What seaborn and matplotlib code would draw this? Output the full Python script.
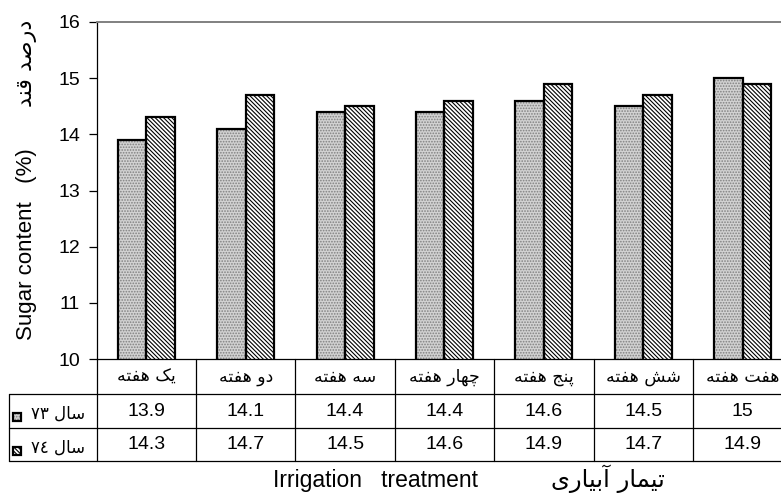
import re
import matplotlib
matplotlib.use("Agg")
import matplotlib.pyplot as plt
from matplotlib.patches import Rectangle
from matplotlib.lines import Line2D
from matplotlib.transforms import blended_transform_factory
import pandas as pd
import seaborn as sns

# ---- data -------------------------------------------------------------
weeks = ["یک هفته", "دو هفته", "سه هفته", "چهار هفته", "پنج هفته", "شش هفته", "هفت هفته"]
years = ["سال ٧٣", "سال ٧٤"]
sugar_73 = [13.9, 14.1, 14.4, 14.4, 14.6, 14.5, 15.0]
sugar_74 = [14.3, 14.7, 14.5, 14.6, 14.9, 14.7, 14.9]
y_ticks = [10, 11, 12, 13, 14, 15, 16]
y_title_en = "Sugar content   (%)"
y_title_fa = "درصد قند"
x_title_en = "Irrigation   treatment"
x_title_fa = "تیمار آبیاری"

# ---- simple Persian shaping (contextual forms + right-to-left order) ---
# letter: (isolated, final, initial, medial); None = does not join forward
FORMS = {
    "ا": ("\uFE8D", "\uFE8E", None, None),
    "آ": ("\uFE81", "\uFE82", None, None),
    "د": ("\uFEA9", "\uFEAA", None, None),
    "ر": ("\uFEAD", "\uFEAE", None, None),
    "و": ("\uFEED", "\uFEEE", None, None),
    "ب": ("\uFE8F", "\uFE90", "\uFE91", "\uFE92"),
    "ت": ("\uFE95", "\uFE96", "\uFE97", "\uFE98"),
    "ج": ("\uFE9D", "\uFE9E", "\uFE9F", "\uFEA0"),
    "س": ("\uFEB1", "\uFEB2", "\uFEB3", "\uFEB4"),
    "ش": ("\uFEB5", "\uFEB6", "\uFEB7", "\uFEB8"),
    "ص": ("\uFEB9", "\uFEBA", "\uFEBB", "\uFEBC"),
    "ف": ("\uFED1", "\uFED2", "\uFED3", "\uFED4"),
    "ق": ("\uFED5", "\uFED6", "\uFED7", "\uFED8"),
    "ل": ("\uFEDD", "\uFEDE", "\uFEDF", "\uFEE0"),
    "م": ("\uFEE1", "\uFEE2", "\uFEE3", "\uFEE4"),
    "ن": ("\uFEE5", "\uFEE6", "\uFEE7", "\uFEE8"),
    "ه": ("\uFEE9", "\uFEEA", "\uFEEB", "\uFEEC"),
    "پ": ("\uFB56", "\uFB57", "\uFB58", "\uFB59"),
    "چ": ("\uFB7A", "\uFB7B", "\uFB7C", "\uFB7D"),
    "ک": ("\uFB8E", "\uFB8F", "\uFB90", "\uFB91"),
    "ی": ("\uFBFC", "\uFBFD", "\uFBFE", "\uFBFF"),
}
DIGITS = "0123456789.٠١٢٣٤٥٦٧٨٩۰۱۲۳۴۵۶۷۸۹"


def fa(text):
    shaped = []
    for i, ch in enumerate(text):
        if ch not in FORMS:
            shaped.append(ch)
            continue
        prev = text[i - 1] if i > 0 else None
        nxt = text[i + 1] if i + 1 < len(text) else None
        join_prev = prev in FORMS and FORMS[prev][2] is not None
        join_next = nxt in FORMS and FORMS[ch][2] is not None
        iso, fin, ini, med = FORMS[ch]
        if join_prev and join_next:
            shaped.append(med)
        elif join_prev:
            shaped.append(fin)
        elif join_next:
            shaped.append(ini)
        else:
            shaped.append(iso)
    shaped = "".join(shaped)
    runs = re.findall(f"[{re.escape(DIGITS)}]+|[^{re.escape(DIGITS)}]+", shaped)
    return "".join(r if r[0] in DIGITS else r[::-1] for r in reversed(runs))


# ---- styling ------------------------------------------------------------
sns.set_theme(style="white")
LATIN = ["Liberation Sans", "DejaVu Sans"]
PERSIAN = ["DejaVu Sans"]
plt.rcParams["font.family"] = LATIN
plt.rcParams["hatch.linewidth"] = 0.8

W, H = 781, 495
fig = plt.figure(figsize=(W / 100, H / 100), dpi=100)
ax_left, ax_right, ax_top, ax_bottom = 96.6, 792.4, 22.0, 359.0
ax = fig.add_axes([ax_left / W, 1 - ax_bottom / H,
                   (ax_right - ax_left) / W, (ax_bottom - ax_top) / H])

df = pd.DataFrame({
    "week": weeks * 2,
    "year": [years[0]] * len(weeks) + [years[1]] * len(weeks),
    "sugar": sugar_73 + sugar_74,
})
sns.barplot(data=df, x="week", y="sugar", hue="year", order=weeks,
            hue_order=years, width=0.575, palette=["#d0d0d0", "white"],
            errorbar=None, legend=False, ax=ax)

STIPPLE = dict(face="#d2d2d2", hatch="......", hcolor="#808080")
DIAG = dict(face="white", hatch="\\" * 8, hcolor="black")
bars = [p for p in ax.patches if isinstance(p, Rectangle)]
for i, p in enumerate(bars):
    st = STIPPLE if i < len(weeks) else DIAG
    p.set_facecolor(st["face"])
    p.set_hatch(st["hatch"])
    p.set_edgecolor(st["hcolor"])
    p.set_linewidth(0)
    ax.add_patch(Rectangle(p.get_xy(), p.get_width(), p.get_height(),
                           fill=False, edgecolor="black", linewidth=1.6,
                           zorder=p.get_zorder() + 0.1))

ax.set_ylim(10, 16)
ax.set_xlim(-0.5, len(weeks) - 0.5)
ax.set_yticks(y_ticks)
ax.set_yticklabels([str(t) for t in y_ticks], fontsize=14, color="black")
ax.tick_params(axis="y", left=True, direction="out", length=6, width=0.9,
               pad=6, color="black")
ax.tick_params(axis="x", bottom=False, labelbottom=False)
ax.set_xlabel("")
ax.set_ylabel("")
for side in ("left", "bottom"):
    ax.spines[side].set_color("black")
    ax.spines[side].set_linewidth(0.9)
for side in ("top", "right"):
    ax.spines[side].set_color("#808080")
    ax.spines[side].set_linewidth(1.4)

# ---- data table below the plot -----------------------------------------
tr = blended_transform_factory(ax.transData, ax.transAxes)
ph = ax_bottom - ax_top
px_per_cat = (ax_right - ax_left) / len(weeks)


def ay(px):
    """Axes-fraction y of a pixel row measured from the top of the image."""
    return (ax_bottom - px) / ph


def dx(px):
    """Data x of a pixel column measured from the left of the image."""
    return (px - ax_left) / px_per_cat - 0.5


row_lines = [394.0, 428.0, 461.0]
table_left = dx(9.0)
line_kw = dict(color="black", linewidth=0.9, transform=tr, clip_on=False)
for yl in row_lines:
    ax.add_line(Line2D([table_left, len(weeks) - 0.5], [ay(yl)] * 2, **line_kw))
ax.add_line(Line2D([table_left] * 2, [ay(row_lines[0]), ay(row_lines[-1])], **line_kw))
for xb in range(len(weeks)):
    ax.add_line(Line2D([xb - 0.5] * 2, [0, ay(row_lines[-1])], **line_kw))

header_y = ay((ax_bottom + row_lines[0]) / 2)
for i, wk in enumerate(weeks):
    ax.text(i, header_y, fa(wk), transform=tr, ha="center", va="center",
            fontsize=12.5, family=PERSIAN, color="black")

rows = [sugar_73, sugar_74]
row_tops = [row_lines[0], row_lines[1]]
row_bots = [row_lines[1], row_lines[2]]
styles = [STIPPLE, DIAG]
for r, vals in enumerate(rows):
    yc = ay((row_tops[r] + row_bots[r]) / 2)
    for i, v in enumerate(vals):
        ax.text(i, yc, f"{v:g}", transform=tr, ha="center", va="center",
                fontsize=14, color="black")
    # pattern key + year label
    st = styles[r]
    key_y = ay(row_tops[r] + 27)
    kx, kw, kh = dx(13.0), 8.0 / px_per_cat, 8.0 / ph
    ax.add_patch(Rectangle((kx, key_y), kw, kh, transform=tr, clip_on=False,
                           facecolor=st["face"], hatch=st["hatch"],
                           edgecolor=st["hcolor"], linewidth=0))
    ax.add_patch(Rectangle((kx, key_y), kw, kh, transform=tr, clip_on=False,
                           fill=False, edgecolor="black", linewidth=1.6))
    ax.text(dx(31.0), yc - 3 / ph, fa(years[r]), transform=tr, ha="left",
            va="center", fontsize=12, family=PERSIAN, color="black")

# ---- axis titles ----------------------------------------------------------
fig.text(27 / W, 1 - 340 / H, y_title_en, rotation=90,
         ha="center", va="bottom", fontsize=16, family=LATIN, color="black")
fig.text(27 / W, 1 - 20 / H, fa(y_title_fa), rotation=90,
         ha="center", va="top", fontsize=16, family=PERSIAN, color="black")
fig.text(273 / W, 1 - 481 / H, x_title_en,
         ha="left", va="center", fontsize=16.5, family=LATIN, color="black")
fig.text(665 / W, 1 - 479 / H, fa(x_title_fa),
         ha="right", va="center", fontsize=17.5, family=PERSIAN, color="black")

fig.savefig("out.png", dpi=100)
